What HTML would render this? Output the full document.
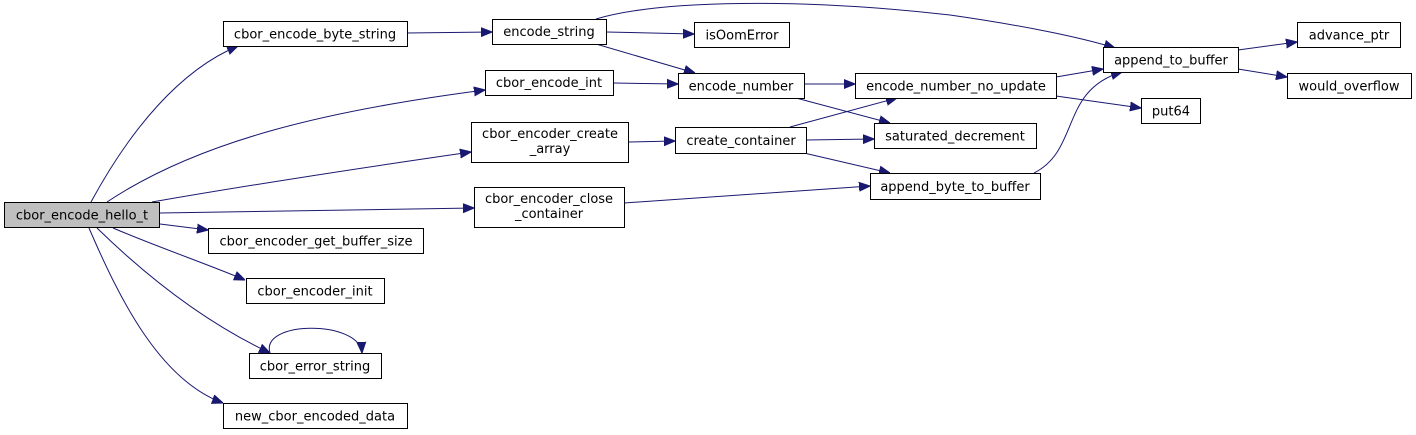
<!DOCTYPE html>
<html><head><meta charset="utf-8"><style>
html,body{margin:0;padding:0;background:#fff;}
svg{display:block;}
text{font-family:"DejaVu Sans","Liberation Sans",sans-serif;font-size:13px;fill:#000;}
.n{fill:#fff;stroke:#000;stroke-width:1;}
.e{fill:none;stroke:#191970;stroke-width:1;}
</style></head><body>
<svg width="1416" height="435" viewBox="0 0 1416 435" xmlns="http://www.w3.org/2000/svg">
<defs><marker id="a" viewBox="0 0 10 10" refX="10" refY="5" markerWidth="11" markerHeight="11" markerUnits="userSpaceOnUse" orient="auto"><path d="M0,1 L10,5 L0,9 z" fill="#191970" stroke="#191970"/></marker></defs>
<g class="e" marker-end="url(#a)">
<path d="M91,202 C130,130 180,70 238,46"/>
<path d="M107,202 C200,140 330,110 485,90"/>
<path d="M152,202 C250,185 360,168 471,152"/>
<path d="M160,213 L474,208"/>
<path d="M160,224 L208,230"/>
<path d="M113,228 C160,248 210,265 245,280"/>
<path d="M97,228 C140,270 200,320 270,353"/>
<path d="M89,228 C120,300 160,380 223,403"/>
<path d="M270,353 C260,320 360,320 362,353"/>
<path d="M407,33 L492,32"/>
<path d="M606,32 L694,34"/>
<path d="M596,44 L695,73"/>
<path d="M596,19 C660,0 800,-2 950,15 C1020,25 1080,37 1115,48"/>
<path d="M613,83 L678,84"/>
<path d="M628,142 L675,141"/>
<path d="M624,203 L870,186"/>
<path d="M804,84 L855,84"/>
<path d="M796,98 L890,123"/>
<path d="M790,127 L897,98"/>
<path d="M806,140 L874,139"/>
<path d="M804,153 L890,173"/>
<path d="M1056,77 L1103,69"/>
<path d="M1056,96 L1141,108"/>
<path d="M1034,173 C1080,150 1060,90 1122,72"/>
<path d="M1238,50 L1297,42"/>
<path d="M1238,69 L1287,77"/>
</g>
<rect x="4.5" y="202.5" width="155" height="25" fill="#bfbfbf" stroke="#000"/>
<text x="82" y="219.5" text-anchor="middle">cbor_encode_hello_t</text>
<rect class="n" x="223.5" y="21.5" width="184" height="25"/><text x="315" y="38.5" text-anchor="middle">cbor_encode_byte_string</text>
<rect class="n" x="492.5" y="19.5" width="114" height="25"/><text x="549" y="36" text-anchor="middle">encode_string</text>
<rect class="n" x="485.5" y="70.5" width="128" height="25"/><text x="549" y="87" text-anchor="middle">cbor_encode_int</text>
<rect class="n" x="471.5" y="122.5" width="157" height="40"/><text x="550" y="138" text-anchor="middle">cbor_encoder_create</text><text x="550" y="153" text-anchor="middle">_array</text>
<rect class="n" x="474.5" y="187.5" width="150" height="40"/><text x="549" y="203" text-anchor="middle">cbor_encoder_close</text><text x="549" y="218" text-anchor="middle">_container</text>
<rect class="n" x="208.5" y="228.5" width="215" height="25"/><text x="316" y="245.5" text-anchor="middle">cbor_encoder_get_buffer_size</text>
<rect class="n" x="246.5" y="278.5" width="138" height="25"/><text x="315" y="295.5" text-anchor="middle">cbor_encoder_init</text>
<rect class="n" x="249.5" y="353.5" width="132" height="25"/><text x="315" y="370.5" text-anchor="middle">cbor_error_string</text>
<rect class="n" x="223.5" y="403.5" width="184" height="25"/><text x="315" y="420.5" text-anchor="middle">new_cbor_encoded_data</text>
<rect class="n" x="694.5" y="22.5" width="95" height="25"/><text x="742" y="39.5" text-anchor="middle">isOomError</text>
<rect class="n" x="678.5" y="73.5" width="126" height="25"/><text x="741" y="90.5" text-anchor="middle">encode_number</text>
<rect class="n" x="675.5" y="127.5" width="131" height="26"/><text x="741" y="145" text-anchor="middle">create_container</text>
<rect class="n" x="855.5" y="73.5" width="201" height="25"/><text x="956" y="90.5" text-anchor="middle">encode_number_no_update</text>
<rect class="n" x="874.5" y="123.5" width="162" height="25"/><text x="955" y="140.5" text-anchor="middle">saturated_decrement</text>
<rect class="n" x="870.5" y="173.5" width="170" height="26"/><text x="955" y="191" text-anchor="middle">append_byte_to_buffer</text>
<rect class="n" x="1103.5" y="47.5" width="135" height="25"/><text x="1171" y="64.5" text-anchor="middle">append_to_buffer</text>
<rect class="n" x="1141.5" y="98.5" width="59" height="25"/><text x="1171" y="115.5" text-anchor="middle">put64</text>
<rect class="n" x="1297.5" y="22.5" width="103" height="25"/><text x="1349" y="39.5" text-anchor="middle">advance_ptr</text>
<rect class="n" x="1287.5" y="73.5" width="124" height="25"/><text x="1349" y="90.5" text-anchor="middle">would_overflow</text>
</svg>
</body></html>
